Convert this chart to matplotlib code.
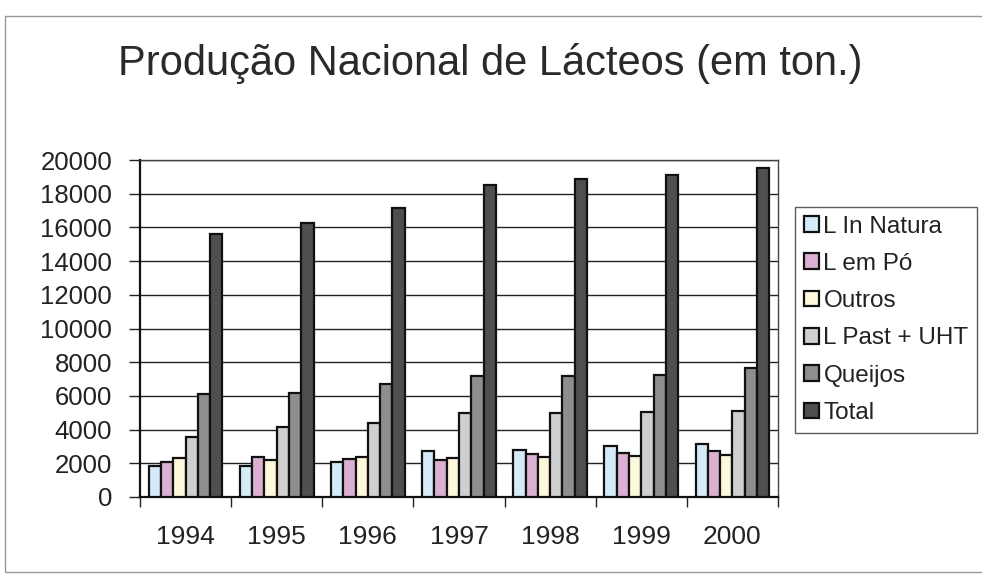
import numpy as np
import matplotlib.pyplot as plt
from matplotlib.patches import Rectangle

plt.rcParams['font.family'] = ['Liberation Sans', 'DejaVu Sans']

# dados de produção (toneladas, aprox.)
anos = ['1994', '1995', '1996', '1997', '1998', '1999', '2000']
series = ['L In Natura', 'L em Pó', 'Outros', 'L Past + UHT', 'Queijos', 'Total']
in_natura = [1840, 1840, 2080, 2730, 2790, 3030, 3150]
em_po = [2080, 2370, 2250, 2200, 2550, 2610, 2730]
outros = [2300, 2200, 2370, 2300, 2370, 2430, 2490]
past_uht = [3580, 4150, 4390, 4980, 4990, 5040, 5100]
queijos = [6100, 6170, 6700, 7180, 7180, 7240, 7650]
total = [15600, 16280, 17150, 18500, 18870, 19100, 19500]

valores = [in_natura, em_po, outros, past_uht, queijos, total]
cores = ['#d3ecf8', '#dcb0d2', '#fdf7dc', '#cfcfcf', '#8e8e8e', '#4f4f4f']

fig = plt.figure(figsize=(9.82, 5.76), dpi=100)
ax = fig.add_axes([140 / 982, 79 / 576, 638 / 982, 337 / 576])

x = np.arange(len(anos))
largura = 0.135
for i, (nome, vals, cor) in enumerate(zip(series, valores, cores)):
    pos = x + (i - 2.5) * largura
    ax.bar(pos, vals, width=largura, color=cor, edgecolor='#111111',
           linewidth=1.6, label=nome, zorder=3)

ax.set_xlim(-0.5, len(anos) - 0.5)
ax.set_ylim(0, 20000)
ax.set_yticks(np.arange(0, 20001, 2000))
ax.set_yticklabels([str(v) for v in range(0, 20001, 2000)], fontsize=18.5,
                   color='#222222')
ax.grid(axis='y', color='#222222', linewidth=1.0, zorder=0)

# marcas do eixo x nas divisões entre anos
ax.set_xticks(np.arange(-0.5, len(anos), 1.0))
ax.set_xticklabels([])
ax.set_xticks(x, minor=True)
ax.set_xticklabels(anos, minor=True, fontsize=19, color='#222222')
ax.tick_params(axis='x', which='minor', length=0, pad=20)
ax.tick_params(axis='x', which='major', length=7, width=1.0, color='#222222')
ax.tick_params(axis='y', length=8, width=1.0, color='#222222', pad=12)

for lado in ['left', 'bottom']:
    ax.spines[lado].set_linewidth(1.6)
    ax.spines[lado].set_color('#111111')
for lado in ['top', 'right']:
    ax.spines[lado].set_linewidth(1.0)
    ax.spines[lado].set_color('#444444')

leg = fig.legend(loc='upper left', bbox_to_anchor=(795 / 982, 1 - 207 / 576),
                 fontsize=17.5, frameon=True, fancybox=False, edgecolor='#333333',
                 handlelength=0.62, handleheight=0.62, handletextpad=0.2,
                 labelspacing=0.63, borderpad=0.35, borderaxespad=0)
leg.get_frame().set_linewidth(1.0)
for t in leg.get_texts():
    t.set_color('#222222')

fig.text(118 / 982, 1 - 75 / 576, 'Produção Nacional de Lácteos (em ton.)',
         ha='left', va='baseline', fontsize=30, color='#2a2a2a')

# moldura externa do gráfico
fig.patches.append(Rectangle((5 / 982, 4 / 576), 990 / 982, 556 / 576,
                             transform=fig.transFigure, fill=False,
                             edgecolor='#999999', linewidth=1.0))

fig.savefig('out.png', dpi=100, facecolor='white')
